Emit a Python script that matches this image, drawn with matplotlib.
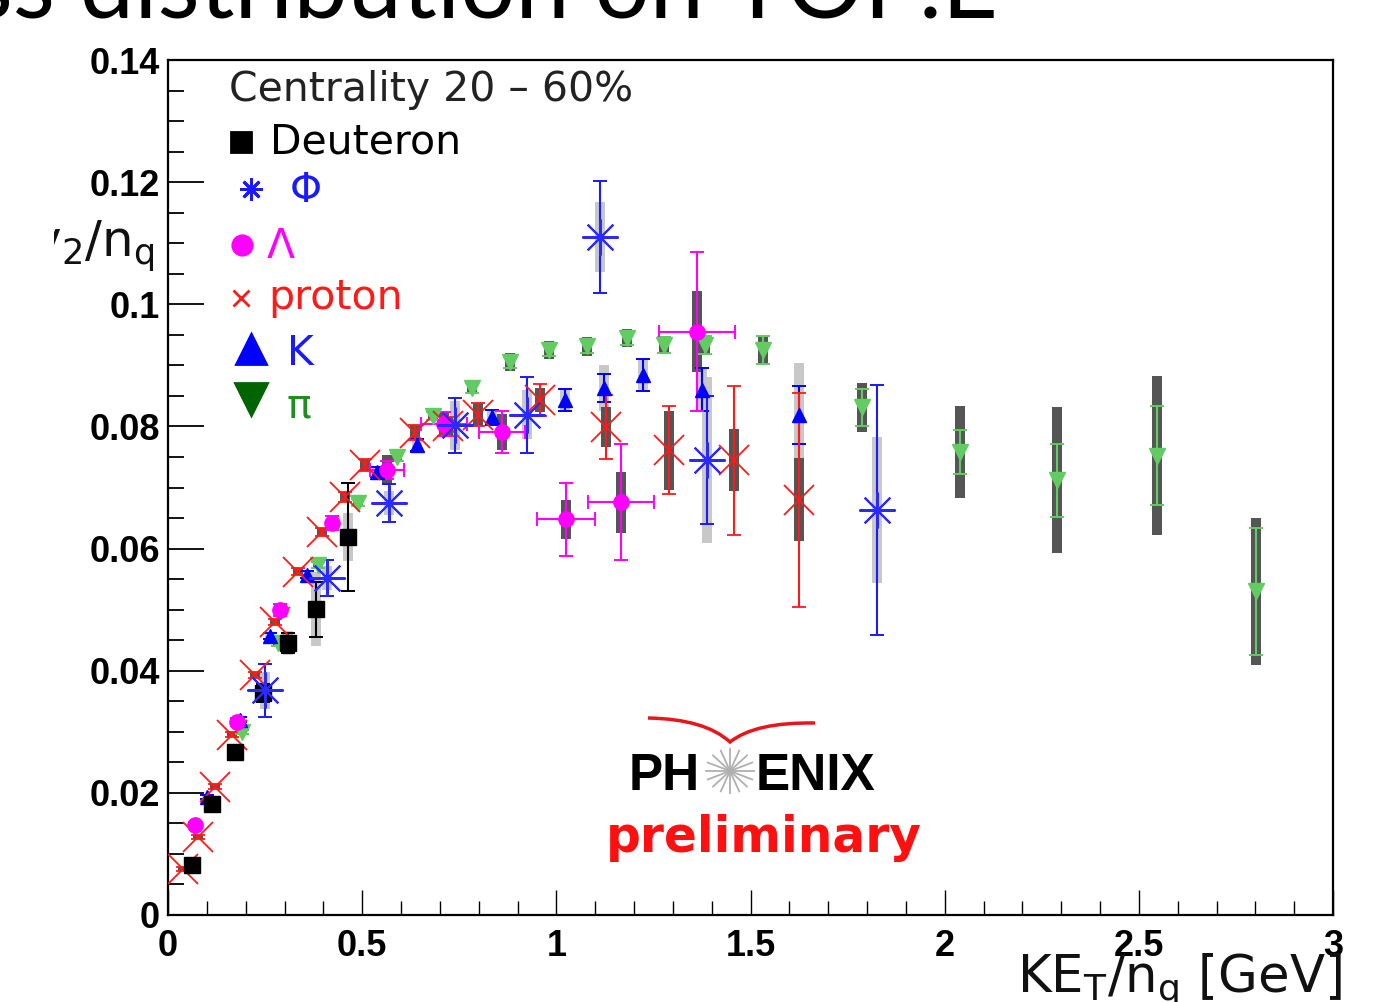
import numpy as np
import matplotlib
matplotlib.use("Agg")
import matplotlib.pyplot as plt
from matplotlib.path import Path
from matplotlib.patches import PathPatch, Rectangle
from matplotlib.lines import Line2D
from matplotlib.ticker import MultipleLocator, FuncFormatter

# v2/nq vs KEt/nq, centrality 20-60%
deut_x = [0.062, 0.113, 0.173, 0.245, 0.309, 0.381, 0.464]
deut_y = [0.0082, 0.0182, 0.0267, 0.0363, 0.0445, 0.0501, 0.0619]
deut_err = [0.0005, 0.0008, 0.001, 0.0015, 0.0016, 0.0045, 0.0088]
deut_sys = [0.0005, 0.0008, 0.001, 0.0015, 0.002, 0.006, 0.004]

phi_x = [0.25, 0.41, 0.569, 0.739, 0.925, 1.113, 1.388, 1.826]
phi_y = [0.0368, 0.0552, 0.0675, 0.0802, 0.0819, 0.111, 0.0745, 0.0663]
phi_err = [0.0043, 0.003, 0.0031, 0.0045, 0.0062, 0.0092, 0.0105, 0.0205]
phi_sys = [0.003, 0.002, 0.002, 0.004, 0.004, 0.0057, 0.0136, 0.0119]

lam_x = [0.07, 0.178, 0.288, 0.422, 0.564, 0.711, 0.86, 1.025, 1.167, 1.362]
lam_y = [0.0147, 0.0316, 0.050, 0.0642, 0.0729, 0.0804, 0.0791, 0.0648, 0.0676, 0.0955]
lam_err = [0.0005, 0.0007, 0.001, 0.0012, 0.0015, 0.002, 0.0035, 0.006, 0.0095, 0.013]
lam_xerr = [0, 0, 0, 0, 0.045, 0.06, 0.06, 0.075, 0.085, 0.097]
lam_sys = [0.0005, 0.0007, 0.001, 0.0012, 0.0025, 0.002, 0.003, 0.0032, 0.005, 0.0066]

prot_x = [0.039, 0.077, 0.121, 0.165, 0.224, 0.276, 0.335, 0.397, 0.456, 0.507,
          0.636, 0.72, 0.798, 0.958, 1.128, 1.29, 1.458, 1.625]
prot_y = [0.0075, 0.0128, 0.021, 0.0295, 0.0393, 0.048, 0.0562, 0.0627, 0.0684, 0.0737,
          0.079, 0.080, 0.0819, 0.0843, 0.0799, 0.0761, 0.0745, 0.068]
prot_err = [0.0003, 0.0003, 0.0004, 0.0004, 0.0005, 0.0005, 0.0006, 0.0007, 0.0008, 0.001,
            0.0012, 0.0015, 0.0019, 0.0026, 0.0053, 0.0072, 0.0122, 0.0175]
prot_sys = [0.0003, 0.0003, 0.0004, 0.0004, 0.0005, 0.0005, 0.0006, 0.0007, 0.0008, 0.001,
            0.0012, 0.0015, 0.0019, 0.002, 0.0032, 0.0065, 0.0051, 0.0068]

kaon_x = [0.1, 0.185, 0.263, 0.358, 0.538, 0.641, 0.834, 1.022, 1.123, 1.223, 1.375, 1.625]
kaon_y = [0.0193, 0.032, 0.0457, 0.0557, 0.0725, 0.077, 0.0815, 0.0843, 0.0863, 0.0884, 0.086, 0.0819]
kaon_err = [0.0003, 0.0004, 0.0005, 0.0006, 0.0008, 0.001, 0.0012, 0.0018, 0.0023, 0.0026, 0.0035, 0.0047]
kaon_sys = [0.0003, 0.0004, 0.0005, 0.0006, 0.0008, 0.001, 0.0012, 0.0018, 0.0038, 0.0026, 0.0035, 0.0085]

pion_x = [0.19, 0.283, 0.386, 0.49, 0.59, 0.682, 0.783, 0.881, 0.981, 1.079,
          1.182, 1.277, 1.383, 1.532, 1.787, 2.04, 2.29, 2.547, 2.802]
pion_y = [0.030, 0.0445, 0.0573, 0.0675, 0.075, 0.0817, 0.0863, 0.0905, 0.0925, 0.0931,
          0.0945, 0.0933, 0.0933, 0.0925, 0.0831, 0.0758, 0.0712, 0.0752, 0.053]
pion_err = [0.0003, 0.0004, 0.0005, 0.0006, 0.0006, 0.0007, 0.0008, 0.0009, 0.001, 0.001,
            0.0012, 0.0013, 0.0015, 0.0023, 0.003, 0.0036, 0.006, 0.0081, 0.0104]
pion_sys = [0.0003, 0.0004, 0.0005, 0.0006, 0.0006, 0.0007, 0.0008, 0.0015, 0.0015, 0.0015,
            0.0015, 0.0015, 0.0015, 0.0023, 0.004, 0.0075, 0.012, 0.013, 0.012]

W, H = 1398, 1002
fig = plt.figure(figsize=(W / 100, H / 100), dpi=100)
ax = fig.add_axes([168 / W, 1 - 915 / H, (1333 - 168) / W, (915 - 60) / H])


def fx(px):
    return px / W


def fy(py):
    return 1 - py / H


def sys_boxes(x, y, s, color, w=0.026):
    s = np.array(s)
    ax.bar(x, 2 * s, bottom=np.array(y) - s, width=w, color=color, linewidth=0, zorder=1)


DARK = "#555555"
LIGHT = "#c8c8c8"
sys_boxes(deut_x, deut_y, deut_sys, LIGHT)
sys_boxes(phi_x, phi_y, phi_sys, LIGHT)
sys_boxes(kaon_x, kaon_y, kaon_sys, LIGHT)
sys_boxes(lam_x, lam_y, lam_sys, DARK)
sys_boxes(prot_x, prot_y, prot_sys, DARK)
sys_boxes(pion_x, pion_y, pion_sys, DARK)

eb = dict(linestyle="none", capsize=5, capthick=1.4, elinewidth=1.5, zorder=3)
ax.errorbar(pion_x, pion_y, yerr=pion_err, fmt="v", ms=11, color="#62cc62", **eb)
ax.errorbar(kaon_x, kaon_y, yerr=kaon_err, fmt="^", ms=10, color="#0000ff", **eb)
ax.errorbar(prot_x, prot_y, yerr=prot_err, fmt="x", ms=22, mew=1.3, color="#ff1a1a", **eb)
ax.errorbar(lam_x, lam_y, yerr=lam_err, xerr=lam_xerr, fmt="o", ms=11, color="#ff00ff", **eb)
ax.errorbar(phi_x, phi_y, yerr=phi_err, fmt="none", ecolor="#1a1aff", **eb)
ax.plot(phi_x, phi_y, linestyle="none", marker=(8, 2, 0), ms=26, mew=1.5,
        mec="#2a2aff", zorder=4)
ax.errorbar(deut_x, deut_y, yerr=deut_err, fmt="s", ms=11, color="black", **eb)

ax.set_xlim(0, 3)
ax.set_ylim(0, 0.14)
ax.xaxis.set_major_locator(MultipleLocator(0.5))
ax.xaxis.set_minor_locator(MultipleLocator(0.1))
ax.yaxis.set_major_locator(MultipleLocator(0.02))
ax.yaxis.set_minor_locator(MultipleLocator(0.005))
fmt = FuncFormatter(lambda v, p: f"{round(v, 3):g}")
ax.xaxis.set_major_formatter(fmt)
ax.yaxis.set_major_formatter(fmt)
ax.tick_params(axis="y", which="major", direction="in", length=26, width=1.3, pad=6)
ax.tick_params(axis="y", which="minor", direction="in", length=11.5, width=1.3)
ax.tick_params(axis="x", which="major", direction="in", length=18, width=1.0, pad=10)
ax.tick_params(axis="x", which="minor", direction="in", length=10, width=1.0)
for lab in ax.get_xticklabels() + ax.get_yticklabels():
    lab.set_fontfamily("Liberation Sans")
    lab.set_fontweight("bold")
    lab.set_fontsize(26)
for sp in ax.spines.values():
    sp.set_linewidth(1.6)

# axis labels (clipped by slide edges)
fig.text(fx(155), fy(257), r"v$_\mathregular{2}$/n$_\mathregular{q}$", ha="right",
         va="baseline", fontsize=36, family="DejaVu Sans", color="#111111")
fig.add_artist(Rectangle((0, fy(292)), fx(54), fy(195) - fy(292), transform=fig.transFigure,
                         facecolor="white", edgecolor="none", zorder=10))
fig.text(fx(1342), fy(992), r"KE$_\mathregular{T}$/n$_\mathregular{q}$ [GeV]", ha="right",
         va="baseline", fontsize=37, family="DejaVu Sans", color="#111111")

# slide title, mostly cropped
fig.text(fx(998), fy(18), "Mass distribution on TOF.E", ha="right", va="baseline",
         fontsize=70, family="Lato", color="black")

# legend
fig.text(fx(229), fy(101), "Centrality 20 \u2013 60%", fontsize=29.5, family="DejaVu Sans",
         color="#222222", va="baseline")
leg = [
    ("Deuteron", "black", 270, 153, "s", "black", 241, 142, 15),
    ("\u03a6", "#1a1aff", 290, 202, (8, 2, 0), "#1a1aff", 251, 189, 16),
    ("\u039b", "#ff00ff", 267, 258, "o", "#ff00ff", 242, 245, 14),
    ("proton", "#ff1a1a", 268, 309, "x", "#ff1a1a", 241, 298, 12),
    ("K", "#1a1aff", 287, 365, "^", "#0000ff", 251, 349, 22),
    ("\u03c0", "#228b22", 287, 417, "v", "#006400", 251, 399, 23),
]
for txt, tc, tx, ty, mk, mc, mx, my, ms in leg:
    fig.text(fx(tx), fy(ty), txt, fontsize=29.5, family="DejaVu Sans", color=tc, va="baseline")
    fig.add_artist(Line2D([fx(mx)], [fy(my)], marker=mk, ms=ms, color=mc, mec=mc, mew=2,
                          linestyle="none", transform=fig.transFigure))

# PHENIX preliminary logo
fig.text(fx(629), fy(790), "PH", fontsize=37, family="Liberation Sans", weight="bold",
         color="black", va="baseline")
fig.text(fx(756), fy(790), "ENIX", fontsize=37, family="Liberation Sans", weight="bold",
         color="black", va="baseline")
cx, cy = 730, 771
for a in np.linspace(0, np.pi, 9)[:-1]:
    dx, dy = 24 * np.cos(a), 22 * np.sin(a)
    fig.add_artist(Line2D([fx(cx - dx), fx(cx + dx)], [fy(cy - dy), fy(cy + dy)],
                          color="#b0b0b0", lw=1.3, transform=fig.transFigure))
swoosh = [(648, 718), (705, 719), (730, 742), (755, 722), (815, 723)]
fig.add_artist(PathPatch(Path([(fx(p), fy(q)) for p, q in swoosh],
                              [Path.MOVETO, Path.CURVE3, Path.CURVE3, Path.CURVE3, Path.CURVE3]),
                         facecolor="none", edgecolor="#e8161a", lw=2.5,
                         transform=fig.transFigure))
fig.text(fx(606), fy(852), "preliminary", fontsize=35, family="DejaVu Sans", weight="bold",
         color="#ff1010", va="baseline")

fig.savefig("out.png", dpi=100, facecolor="white")
